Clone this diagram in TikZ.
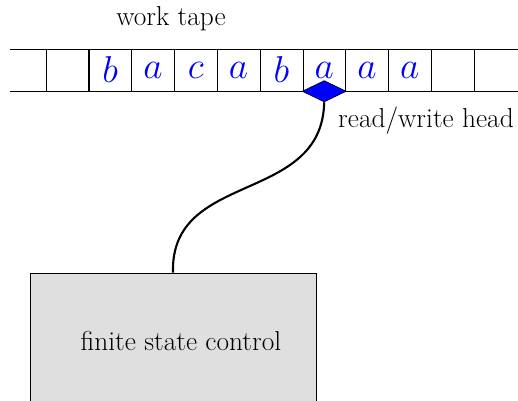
\documentclass[tikz,border=0pt]{standalone}
\usetikzlibrary{shapes.geometric}
\begin{document}
\begin{tikzpicture}[
    x=0.02336cm, y=-0.02336cm,
    cell/.style={rectangle,draw=black,minimum width=1cm,minimum height=0.98cm,inner sep=0pt,text=blue,font=\fontsize{24}{26}\selectfont},
    head/.style={diamond,draw=black,fill=blue,inner sep=0pt,minimum width=1.03cm,minimum height=0.5cm},
    fsc/.style={rectangle,draw=black,fill=gray!25,minimum width=6.68cm,minimum height=3.18cm},
    lbl/.style={font=\fontsize{18.2}{22}\selectfont},
    link/.style={line width=1.4pt}
]
\useasboundingbox (0,0) rectangle (518,401);

% tape
\draw (10,49) -- (518,49);
\draw (10,91) -- (518,91);
\foreach \l [count=\i] in {{},b,a,c,a,b,a,a,a,{}}
    \node[cell] (c\i) at (24.6+42.8*\i,70) {\ensuremath{\l}};

\node[lbl] (tape) at (171,19) {work tape};

% head
\node[head] (H) at (c7.south) {};
\node[lbl] (hlabel) at (426,121) {read/write head};

% control
\node[fsc,lbl] (C) at (173,341) {\hspace*{10.6pt}finite state control};

\draw[link] (H.south) .. controls (322,205) and (170,170) .. (C.north);

\end{tikzpicture}
\end{document}
